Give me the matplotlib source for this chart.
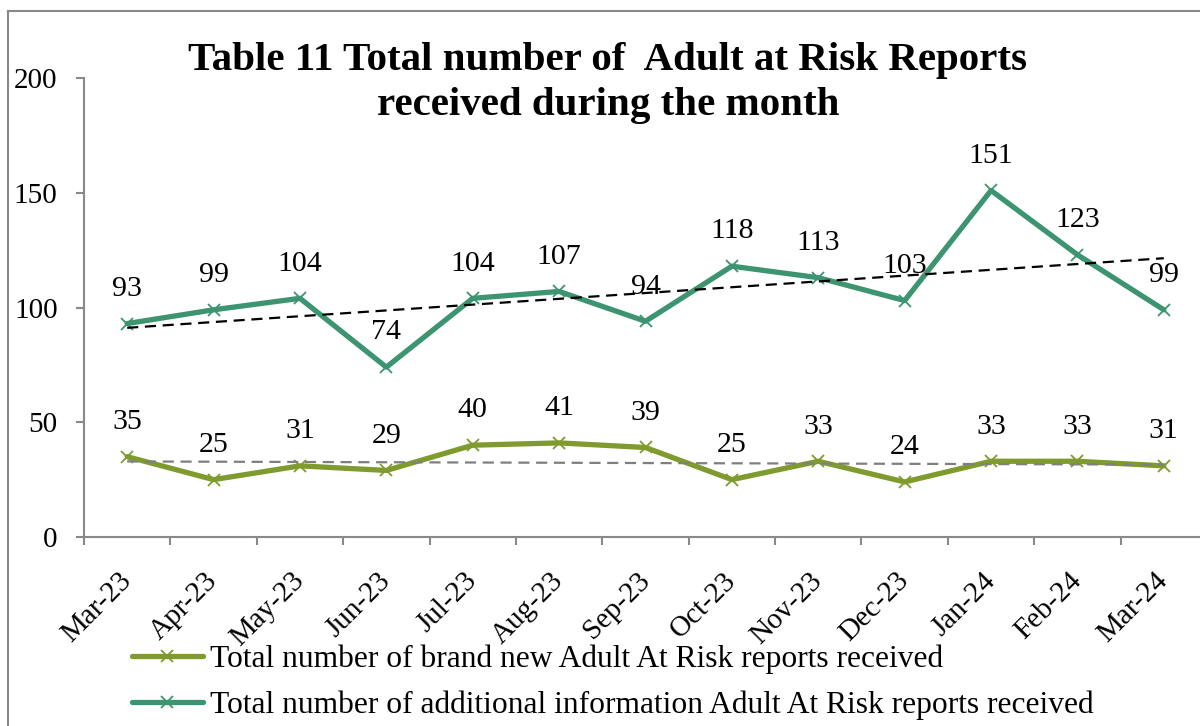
import numpy as np
import matplotlib
matplotlib.use("Agg")
import matplotlib.pyplot as plt
from matplotlib.lines import Line2D
from matplotlib.transforms import ScaledTranslation

months = ["Mar-23", "Apr-23", "May-23", "Jun-23", "Jul-23", "Aug-23", "Sep-23",
          "Oct-23", "Nov-23", "Dec-23", "Jan-24", "Feb-24", "Mar-24"]
brand_new = [35, 25, 31, 29, 40, 41, 39, 25, 33, 24, 33, 33, 31]
additional = [93, 99, 104, 74, 104, 107, 94, 118, 113, 103, 151, 123, 99]
yticks = [0, 50, 100, 150, 200]

label_new = "Total number of brand new Adult At Risk reports received"
label_add = "Total number of additional information Adult At Risk reports received"
title = "Table 11 Total number of  Adult at Risk Reports\nreceived during the month"

olive = "#7F9B2D"
teal = "#3D9470"
axis_grey = "#898989"

plt.rcParams["font.family"] = ["Liberation Serif", "DejaVu Serif"]

fig = plt.figure(figsize=(12, 7.26), dpi=100)
ax = fig.add_axes([84 / 1200, 1 - 537 / 726, (1207 - 84) / 1200, (537 - 78) / 726])

x = np.arange(len(months))

# trend lines (least squares)
for series, col in ((additional, "black"), (brand_new, "#7F7F7F")):
    k, b = np.polyfit(x, series, 1)
    ax.plot(x, k * x + b, color=col, lw=1.6, ls=(0, (5, 3)), zorder=4)

ax.plot(x, brand_new, color=olive, lw=3.8, marker="x", ms=9, mew=1.3,
        label=label_new, zorder=3, solid_capstyle="round")
ax.plot(x, additional, color=teal, lw=3.8, marker="x", ms=9, mew=1.3,
        label=label_add, zorder=3, solid_capstyle="round")

for series in (brand_new, additional):
    for xi, v in zip(x, series):
        ax.annotate(str(v), (xi, v), xytext=(0, 25), textcoords="offset points",
                    ha="center", va="center", fontsize=21.5, color="black", zorder=5)

ax.set_xlim(-0.5, len(months) - 0.5)
ax.set_ylim(0, 200)
ax.set_yticks(yticks)
ax.set_xticks(x)
ax.set_xticklabels(months, rotation=45, ha="right", va="top", rotation_mode="anchor",
                   fontsize=21)
ax.set_xticks(np.arange(-0.5, len(months), 1.0), minor=True)
ax.tick_params(axis="x", which="major", length=0, pad=22)
ax.tick_params(axis="x", which="minor", length=6, width=1.5, color=axis_grey, direction="out")
ax.tick_params(axis="y", length=6, width=1.5, color=axis_grey, direction="out",
               labelsize=21, pad=13)
shift = ScaledTranslation(-9 / 100, 0, fig.dpi_scale_trans)
for lab in ax.get_xticklabels():
    lab.set_transform(lab.get_transform() + shift)

for s in ("top", "right"):
    ax.spines[s].set_visible(False)
for s in ("left", "bottom"):
    ax.spines[s].set_color(axis_grey)
    ax.spines[s].set_linewidth(1.5)

fig.text(608 / 1200, 1 - 83 / 726, title, ha="center", va="center", fontsize=29.5,
         fontweight="bold", linespacing=1.28)

fig.legend(loc="upper left", bbox_to_anchor=(132 / 1200, 1 - 645 / 726), frameon=False,
           fontsize=22.7, handlelength=2.25, handletextpad=0.22, labelspacing=0.5,
           borderpad=0, borderaxespad=0)

# chart-area border
fig.add_artist(Line2D([8 / 1200, 8 / 1200], [0, 1 - 11 / 726], transform=fig.transFigure,
                      color=axis_grey, lw=1.5))
fig.add_artist(Line2D([8 / 1200, 1], [1 - 11 / 726, 1 - 11 / 726], transform=fig.transFigure,
                      color=axis_grey, lw=1.5))

fig.savefig("out.png", dpi=100)
